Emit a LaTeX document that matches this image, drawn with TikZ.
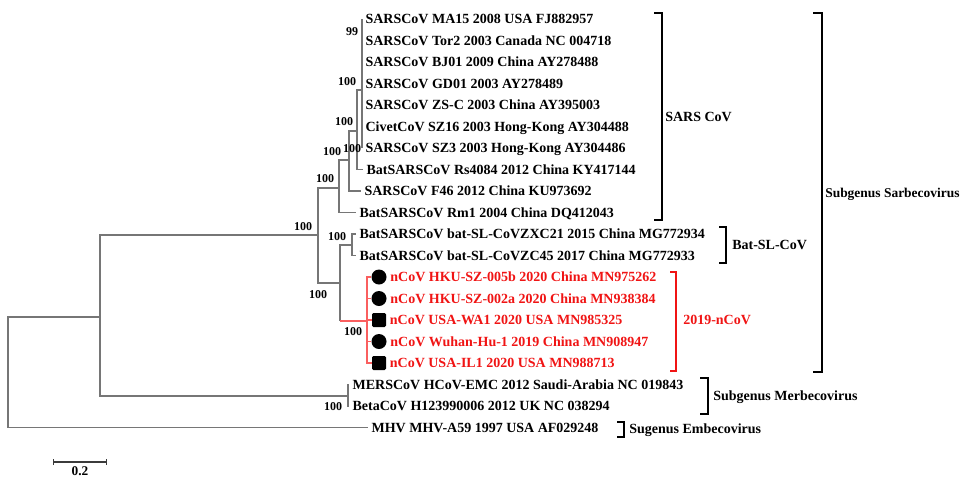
\documentclass[tikz,border=0pt]{standalone}
\usepackage{fontspec}
\setmainfont{Liberation Serif}
\usetikzlibrary{arrows.meta}
\definecolor{treegrey}{RGB}{118,118,118}
\definecolor{ncovred}{RGB}{240,20,20}
\definecolor{ncovline}{RGB}{250,95,95}
\tikzset{
  tree/.style    = {treegrey, line width=0.85pt},
  redtree/.style = {ncovline, line width=0.8pt},
  leaf/.style    = {anchor=west, inner xsep=2.5pt, inner ysep=0pt, text height=7pt, text depth=0pt,
                    font=\fontsize{10.5}{12}\selectfont\bfseries},
  redleaf/.style = {leaf, text=ncovred},
  boot/.style    = {inner sep=0pt, font=\fontsize{9}{10}\selectfont\bfseries},
}
\tikzset{
  brk/.style     = {line width=2.2pt, line join=miter},
  redbrk/.style  = {brk, ncovred},
  brklab/.style  = {anchor=west, inner xsep=1.5pt, text height=7pt, text depth=0pt,
                    font=\fontsize{10.5}{12}\selectfont\bfseries},
  dotmark/.style = {circle, fill=black, minimum size=11.25pt, inner sep=0pt},
  boxmark/.style = {rectangle, rounded corners=1pt, fill=black, minimum size=10.5pt, inner sep=0pt},
  scalebar/.style= {treegrey!50!black, line width=0.8pt, {Bar[width=4.5pt]}-{Bar[width=4.5pt]}},
}

\begin{document}
\begin{tikzpicture}[x=0.75pt, y=-0.75pt]
\useasboundingbox (0,0) rectangle (963,479);

% internal nodes of the tree
\coordinate (A) at (362,90);
\coordinate (B) at (357,131);
\coordinate (C) at (349,160);
\coordinate (D) at (339,188);
\coordinate (E) at (318,235);
\coordinate (F) at (340,283);
\coordinate (G) at (352,245);
\coordinate (H) at (367,321);
\coordinate (M) at (348,396);
\coordinate (I) at (100,317);
\coordinate (R) at (8,372);

% SARS CoV leaves
\foreach \lab [count=\i from 0] in {SARSCoV MA15 2008 USA FJ882957,
    SARSCoV Tor2 2003 Canada NC 004718, SARSCoV BJ01 2009 China AY278488,
    SARSCoV GD01 2003 AY278489, SARSCoV ZS-C 2003 China AY395003,
    CivetCoV SZ16 2003 Hong-Kong AY304488, SARSCoV SZ3 2003 Hong-Kong AY304486}{
  \node[leaf] (s\i) at (362,{19+21.5*\i}) {\lab};
  \draw[tree] (A) |- (s\i.west);
}
\node[leaf] (rs)   at (363,169.5) {BatSARSCoV Rs4084 2012 China KY417144};
\node[leaf] (f46)  at (361,191)   {SARSCoV F46 2012 China KU973692};
\node[leaf] (rm1)  at (356,212.5) {BatSARSCoV Rm1 2004 China DQ412043};
\node[leaf] (zxc)  at (356,234)   {BatSARSCoV bat-SL-CoVZXC21 2015 China MG772934};
\node[leaf] (zc45) at (356,255.5) {BatSARSCoV bat-SL-CoVZC45 2017 China MG772933};
\node[leaf] (mers) at (349,384.5) {MERSCoV HCoV-EMC 2012 Saudi-Arabia NC 019843};
\node[leaf] (beta) at (349,406)   {BetaCoV H123990006 2012 UK NC 038294};
\node[leaf] (mhv)  at (368,427.5) {MHV MHV-A59 1997 USA AF029248};

% 2019-nCoV leaves
\foreach \lab/\mk [count=\i from 0] in {nCoV HKU-SZ-005b 2020 China MN975262/dotmark,
    nCoV HKU-SZ-002a 2020 China MN938384/dotmark, nCoV USA-WA1 2020 USA MN985325/boxmark,
    nCoV Wuhan-Hu-1 2019 China MN908947/dotmark, nCoV USA-IL1 2020 USA MN988713/boxmark}{
  \node[\mk] (m\i) at (379,{277+21.5*\i}) {};
  \node[redleaf] (n\i) at (m\i.east) {\lab};
  \draw[redtree] (H) |- (m\i.west);
}

% branches
\draw[tree] (B) |- (A);  \draw[tree] (B) |- (rs.west);
\draw[tree] (C) |- (B);  \draw[tree] (C) |- (f46.west);
\draw[tree] (D) |- (C);  \draw[tree] (D) |- (rm1.west);
\draw[tree] (E) |- (D);  \draw[tree] (E) |- (F);
\draw[tree] (F) |- (G);
\draw[tree] (G) |- (zxc.west);  \draw[tree] (G) |- (zc45.west);
\draw[tree] (F) -- (F |- H);
\draw[redtree] (F |- H) -- (H);
\draw[tree] (I) |- (E);  \draw[tree] (I) |- (M);
\draw[tree] (M) |- (mers.west);  \draw[tree] (M) |- (beta.west);
\draw[tree] (R) |- (I);  \draw[tree] (R) |- (mhv.west);

% bootstrap values
\foreach \xx/\yy/\val [count=\k] in {352/32/99, 347/82/100, 344/122/100, 332/152/100,
    352/149/100, 325/179/100, 303/227/100, 337/237/100, 318/295/100, 353/332/100, 333/407/100}
  \node[boot] (bs\k) at (\xx,\yy) {\val};

% clade brackets
\draw[brk] (654,13) -| (662,220) -- (654,220);
\node[brklab] (sars) at (663,117) {SARS CoV};
\draw[brk] (813,13) -| (822,372) -- (813,372);
\node[brklab, font=\fontsize{10.1}{12}\selectfont\bfseries] (sarbeco) at (823,193) {Subgenus Sarbecovirus};
\draw[brk] (719,227) -| (726,263) -- (719,263);
\node[brklab] (batsl) at (730,245) {Bat-SL-CoV};
\draw[redbrk] (670,272) -| (676,371) -- (670,371);
\node[brklab, text=ncovred] (ncov) at (681,320) {2019-nCoV};
\draw[brk] (700,378) -| (708,414) -- (700,414);
\node[brklab] (merbeco) at (711,396) {Subgenus Merbecovirus};
\draw[brk] (617,422) -| (624,437) -- (617,437);
\node[brklab] (embeco) at (627,429) {Sugenus Embecovirus};

% scale bar
\coordinate (sbl) at (53,462);
\coordinate (sbr) at (107,462);
\draw[scalebar] (sbl) -- (sbr);
\node[boot, font=\fontsize{10}{11}\selectfont\bfseries] (sblab) at (80,471) {0.2};
\end{tikzpicture}
\end{document}
